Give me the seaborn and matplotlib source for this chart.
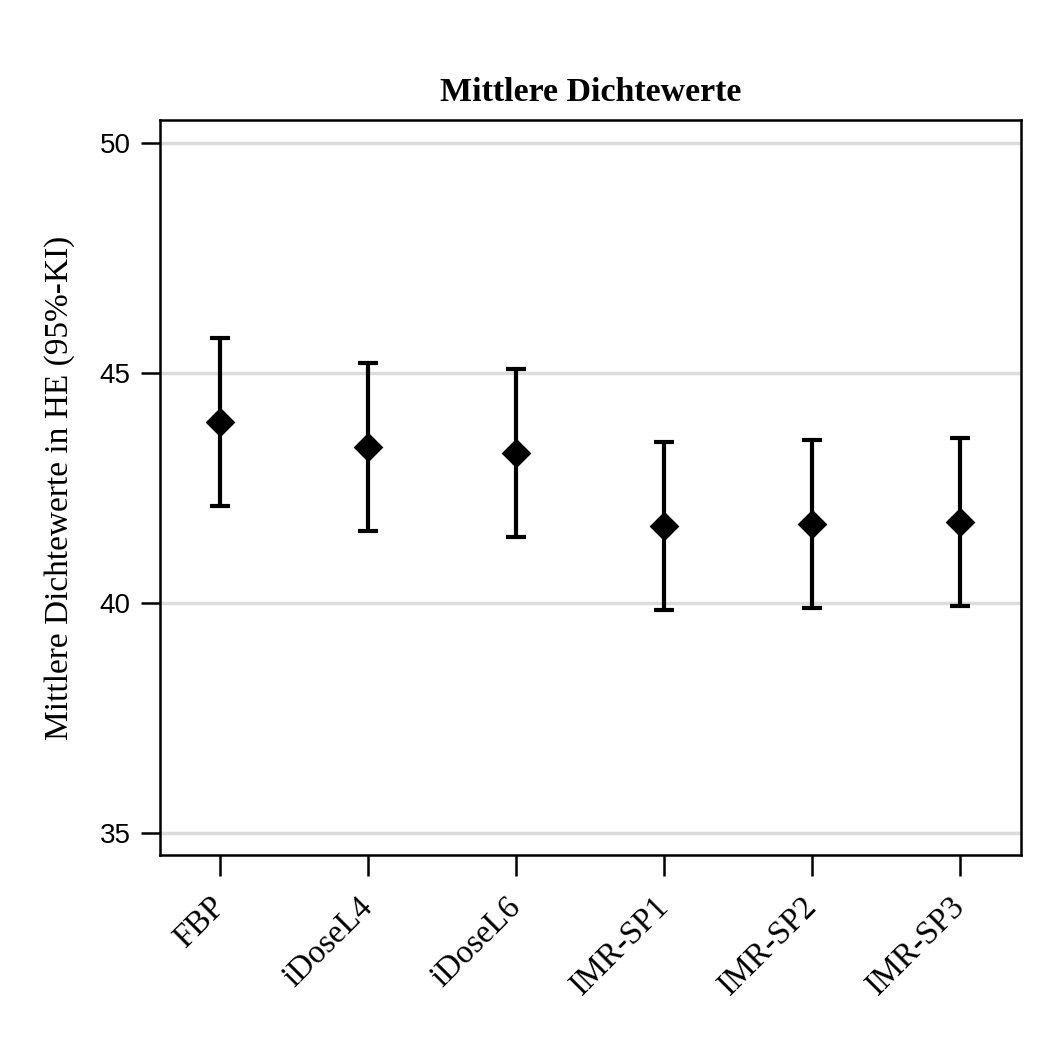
import matplotlib
matplotlib.use("Agg")
import matplotlib.pyplot as plt
import matplotlib.transforms as mtransforms
import seaborn as sns
import pandas as pd

categories = ["FBP", "iDoseL4", "iDoseL6", "IMR-SP1", "IMR-SP2", "IMR-SP3"]
means = [43.94, 43.39, 43.26, 41.67, 41.72, 41.76]
lower = [42.10, 41.57, 41.43, 39.85, 39.90, 39.93]
upper = [45.76, 45.21, 45.08, 43.50, 43.55, 43.59]
y_ticks = [35, 40, 45, 50]

df = pd.DataFrame({"cat": categories, "mean": means, "lo": lower, "hi": upper})

sns.set_theme(style="white")
plt.rcParams["font.family"] = ["Liberation Serif", "DejaVu Serif"]
plt.rcParams["text.color"] = "black"
plt.rcParams["axes.labelcolor"] = "black"
plt.rcParams["xtick.color"] = "black"
plt.rcParams["ytick.color"] = "black"

fig = plt.figure(figsize=(10.49, 10.54), dpi=100)
ax = fig.add_axes([0.1525, 0.1888, 0.8208, 0.6973])

for y in y_ticks:
    ax.axhline(y, color="#dcdcdc", lw=2.5, zorder=0)

xs = list(range(len(categories)))
ax.errorbar(xs, df["mean"], yerr=[df["mean"] - df["lo"], df["hi"] - df["mean"]],
            fmt="none", ecolor="black", elinewidth=3, capsize=7, capthick=3, zorder=2)
sns.scatterplot(x=xs, y=df["mean"], marker="D", s=230, color="black",
                edgecolor="black", linewidth=0, ax=ax, zorder=3)

ax.set_xlim(-0.405, 5.41)
ax.set_ylim(34.52, 50.5)
ax.set_xticks(xs)
ax.set_xticklabels(categories, rotation=45, ha="right", va="center", rotation_mode="anchor",
                   fontsize=23.5, family=["Liberation Serif"], color="black")
offset = mtransforms.ScaledTranslation(-4 / 72, 0, fig.dpi_scale_trans)
for lbl in ax.get_xticklabels():
    lbl.set_transform(lbl.get_transform() + offset)
ax.set_yticks(y_ticks)
ax.set_yticklabels([str(v) for v in y_ticks], fontsize=20,
                   family=["Liberation Sans"], color="black")
ax.tick_params(axis="x", direction="out", length=15, width=1.8, color="black", pad=19)
ax.tick_params(axis="y", direction="out", length=14, width=1.8, color="black", pad=7)
ax.tick_params(bottom=True, left=True)
for sp in ax.spines.values():
    sp.set_color("black")
    sp.set_linewidth(1.8)
ax.set_xlabel("")
ax.set_ylabel("Mittlere Dichtewerte in HE (95%-KI)", fontsize=24, labelpad=18, color="black")
ax.set_title("Mittlere Dichtewerte", fontsize=24.5, fontweight="bold", pad=14, color="black")

fig.savefig("out.png", dpi=100, facecolor="white")
